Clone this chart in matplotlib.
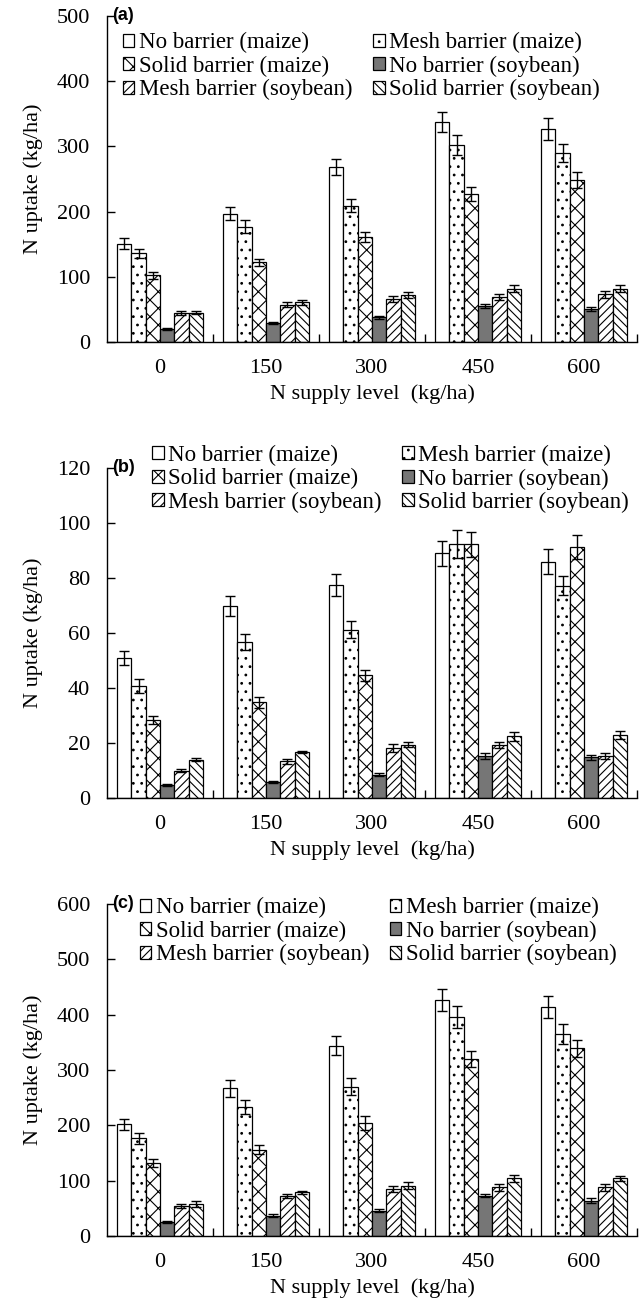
import matplotlib
matplotlib.use("Agg")
import matplotlib.pyplot as plt
import numpy as np

plt.rcParams['font.family'] = ['Liberation Serif', 'DejaVu Serif']
plt.rcParams['hatch.linewidth'] = 0.8

n_levels = ["0", "150", "300", "450", "600"]
series = [
    "No barrier (maize)",
    "Mesh barrier (maize)",
    "Solid barrier (maize)",
    "No barrier (soybean)",
    "Mesh barrier (soybean)",
    "Solid barrier (soybean)",
]

# panel (a)
a_vals = [
    [151, 197, 268, 337, 327],
    [136, 177, 209, 302, 290],
    [102, 122, 161, 227, 248],
    [20, 29, 38, 55, 51],
    [44, 57, 66, 69, 73],
    [45, 61, 72, 82, 82],
]
a_err = [
    [8, 10, 12, 15, 17],
    [7, 10, 10, 15, 14],
    [6, 6, 8, 10, 12],
    [1, 1, 2, 3, 3],
    [3, 4, 4, 5, 5],
    [2, 4, 4, 5, 5],
]

# panel (b)
b_vals = [
    [50.8, 69.8, 77.5, 89.0, 86.0],
    [40.6, 56.7, 61.2, 92.3, 77.2],
    [28.5, 34.9, 44.6, 92.3, 91.3],
    [4.8, 5.8, 8.5, 15.2, 14.8],
    [10.0, 13.3, 18.2, 19.2, 15.2],
    [13.9, 16.7, 19.4, 22.4, 22.8],
]
b_err = [
    [2.5, 3.5, 4.0, 4.5, 4.5],
    [2.5, 3.0, 3.0, 5.0, 3.5],
    [1.5, 2.0, 2.0, 4.5, 4.5],
    [0.3, 0.3, 0.5, 1.0, 1.0],
    [0.5, 1.0, 1.5, 1.0, 1.0],
    [0.5, 0.5, 1.0, 1.5, 1.5],
]

# panel (c)
c_vals = [
    [202, 267, 344, 426, 414],
    [177, 233, 270, 396, 365],
    [132, 156, 204, 320, 339],
    [26, 37, 46, 73, 64],
    [54, 72, 85, 88, 88],
    [58, 79, 91, 104, 104],
]
c_err = [
    [10, 15, 17, 20, 20],
    [10, 12, 15, 20, 18],
    [8, 8, 12, 15, 15],
    [2, 2, 2, 3, 5],
    [3, 4, 6, 6, 6],
    [5, 3, 6, 6, 5],
]

faces = ['white', 'white', 'white', '#767676', 'white', 'white']
hatches = [None, '..', 'xx', None, '////', '\\\\\\\\']

fig = plt.figure(figsize=(6.43, 13.03), dpi=100)
boxes = [
    [107/643, 1 - 342/1303, 530/643, 326/1303],
    [107/643, 1 - 798/1303, 530/643, 330/1303],
    [107/643, 1 - 1236/1303, 530/643, 332/1303],
]
panels = [
    ("(a)", a_vals, a_err, 500, 100, (0.03, 0.95)),
    ("(b)", b_vals, b_err, 120, 20, (0.085, 1.07)),
    ("(c)", c_vals, c_err, 600, 100, (0.062, 1.02)),
]

x = np.arange(len(n_levels))
w = 0.135
fs = 16

for box, (tag, vals, errs, ymax, ystep, leg_pos) in zip(boxes, panels):
    ax = fig.add_axes(box)
    bars = []
    for i in range(6):
        b = ax.bar(x + (i - 2.5) * w, vals[i], w, yerr=errs[i],
                   color=faces[i], edgecolor='black', linewidth=0.9,
                   hatch=hatches[i], label=series[i],
                   error_kw=dict(ecolor='black', elinewidth=1.0,
                                 capsize=3.5, capthick=1.0))
        bars.append(b)

    ax.set_xlim(-0.5, 4.5)
    ax.set_ylim(0, ymax)
    ax.set_yticks(np.arange(0, ymax + 1, ystep))
    ax.set_xticks(x)
    ax.set_xticklabels(n_levels)
    ax.set_xticks(np.arange(0.5, 5, 1), minor=True)
    ax.tick_params(axis='x', which='major', length=0, labelsize=fs, pad=12)
    ax.tick_params(axis='x', which='minor', direction='in', length=6, width=1)
    ax.tick_params(axis='y', direction='in', length=6, width=1, labelsize=fs, pad=12)
    ax.spines['top'].set_visible(False)
    ax.spines['right'].set_visible(False)
    ax.spines['left'].set_linewidth(1)
    ax.spines['bottom'].set_linewidth(1)
    ax.set_xlabel("N supply level  (kg/ha)", fontsize=fs, labelpad=5)
    ax.set_ylabel("N uptake (kg/ha)", fontsize=fs, labelpad=10)

    ax.text(0.01, 1.0, tag, transform=ax.transAxes, fontsize=13,
            fontweight='bold', family='Liberation Sans', ha='left', va='center')

    # legend is filled column by column, so reorder to read row-wise
    order = [0, 2, 4, 1, 3, 5]
    ax.legend([bars[k] for k in order], [series[k] for k in order],
              ncol=2, loc='upper left', bbox_to_anchor=leg_pos,
              frameon=False, fontsize=16.5, handlelength=0.5, handleheight=0.5,
              handletextpad=0.2, columnspacing=0.9, labelspacing=0.1,
              borderaxespad=0, borderpad=0)

fig.savefig("out.png", dpi=100)
